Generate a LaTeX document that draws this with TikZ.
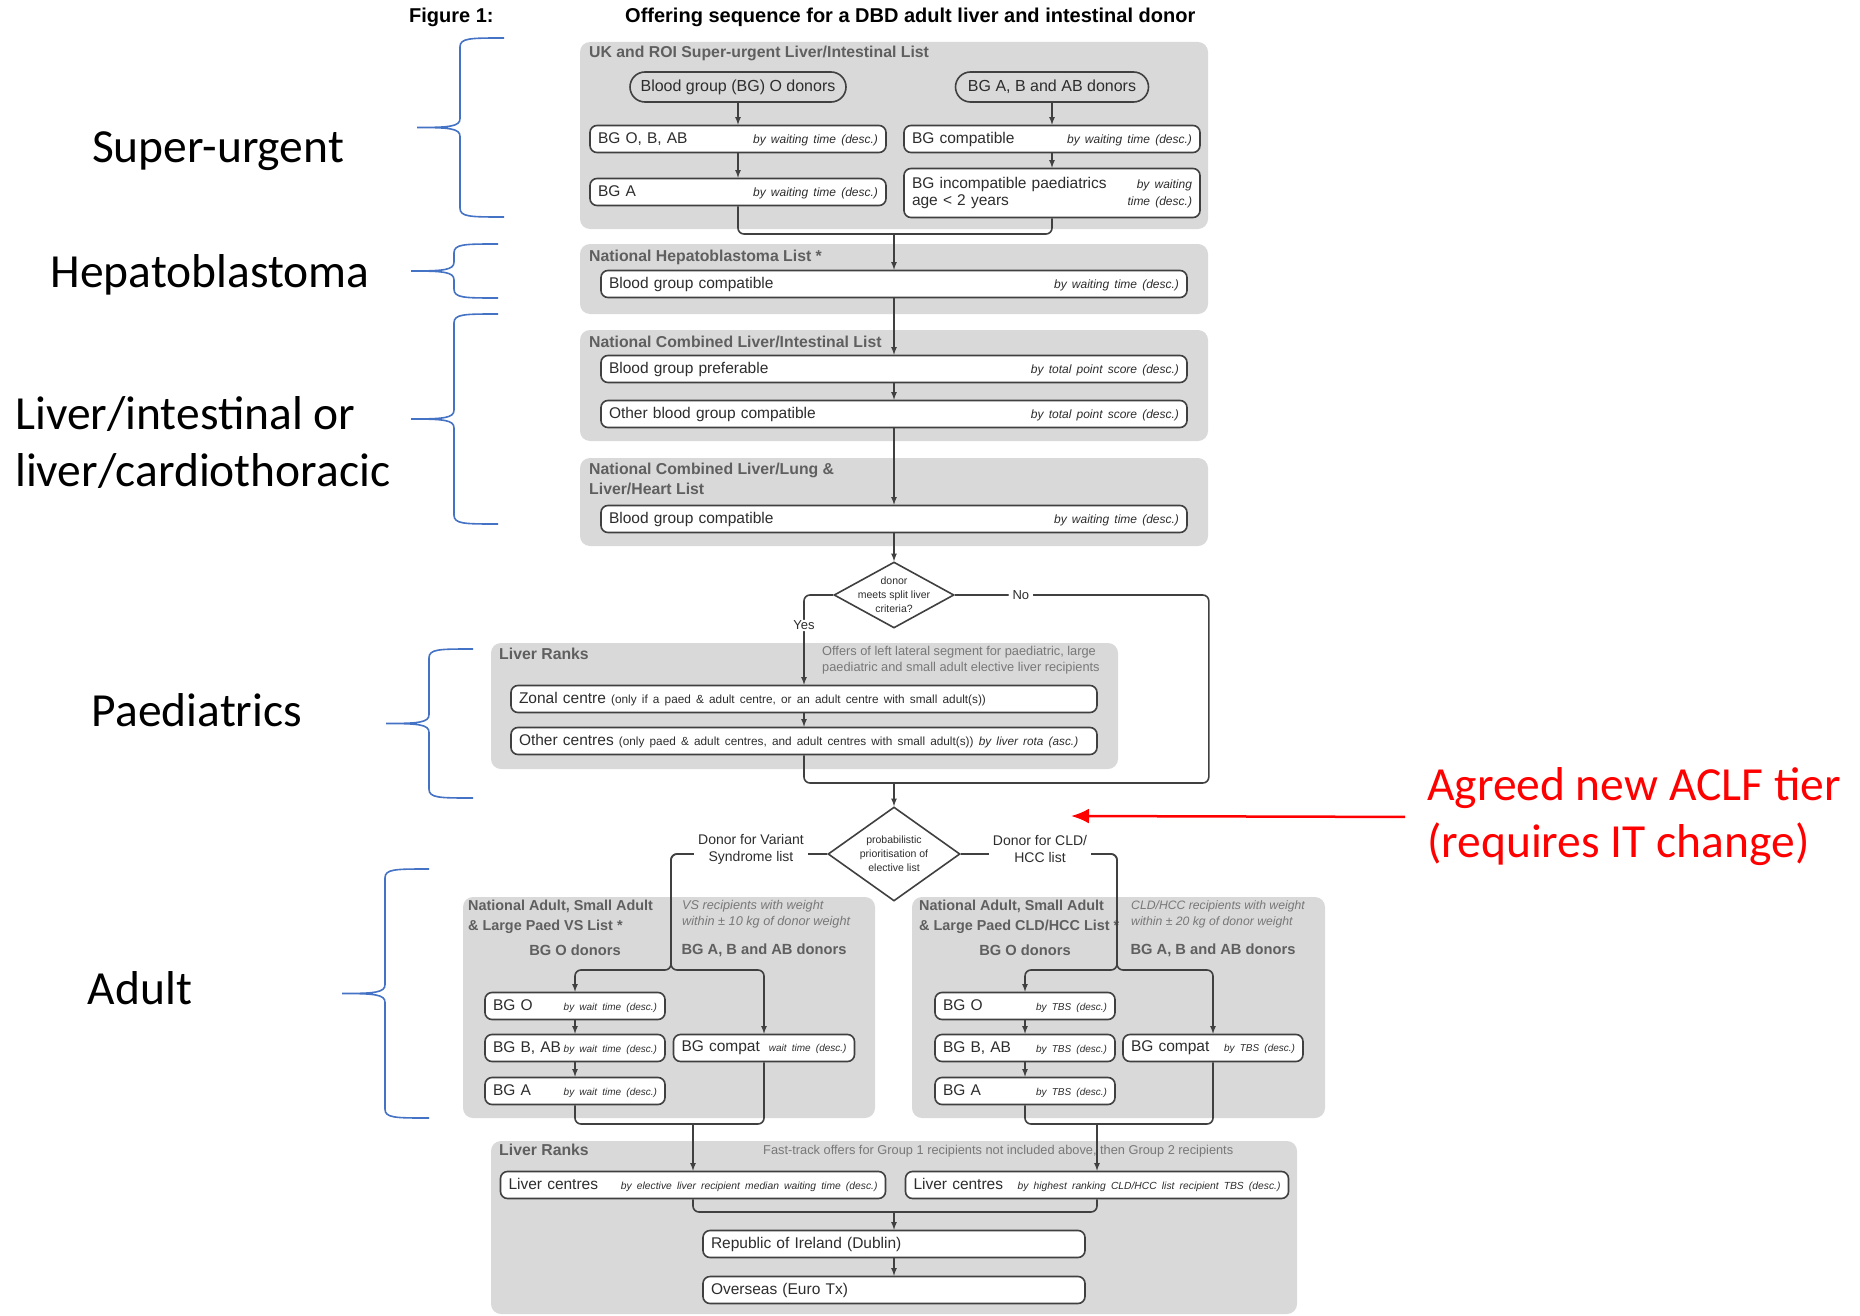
\documentclass[tikz,border=0pt]{standalone}
\usepackage{fontspec}
\setmainfont{Liberation Sans}
\newfontfamily\calibrilike{Carlito}
\usetikzlibrary{arrows, arrows.meta, shapes.geometric, positioning, calc}

\definecolor{panelgray}{RGB}{217,217,217}
\definecolor{linegray}{RGB}{64,64,64}
\definecolor{boxtext}{RGB}{45,45,45}
\definecolor{headgray}{RGB}{95,95,95}
\definecolor{notegray}{RGB}{120,120,120}
\definecolor{braceblue}{RGB}{68,114,196}

\newcommand{\byrank}[2][12]{\hfill{\fontsize{#1}{#1}\selectfont\itshape #2}}
\newcommand{\grpbrace}[3]{% arms at x=#1, from y=#2 down to y=#3
  \pgfmathsetmacro{\bmid}{(#2+#3)/2}
  \draw[bluebrace] (#1,#2) .. controls +(-34,0) and +(0,-9) .. (#1-44,#2+9)
    -- (#1-44,\bmid-9) .. controls +(0,8) and +(33,0) .. (#1-87,\bmid)
    .. controls +(33,0) and +(0,-8) .. (#1-44,\bmid+9)
    -- (#1-44,#3-9) .. controls +(0,9) and +(-34,0) .. (#1,#3);
}

\tikzset{
  panel/.style={fill=panelgray, rounded corners=10pt},
  lbox/.style={draw=linegray, line width=1.6pt, fill=white, rounded corners=7pt,
    minimum height=27pt, inner xsep=8pt, inner ysep=2pt, text width=#1,
    align=left, text=boxtext, font=\fontsize{15.5}{17}\selectfont},
  oval/.style={draw=linegray, line width=1.6pt, rounded corners=15pt,
    minimum height=30pt, text=boxtext, font=\fontsize{16}{18}\selectfont},
  decision/.style={diamond, draw=linegray, line width=1.6pt, fill=white, inner sep=0pt},
  dtext/.style={align=center, text=boxtext, font=\fontsize{10.5}{14}\selectfont},
  head/.style={anchor=north west, inner sep=0pt, align=left, text=headgray,
    font=\bfseries\fontsize{15.8}{20}\selectfont},
  note/.style={anchor=north west, inner sep=0pt, align=left, text=notegray,
    font=\fontsize{12.8}{16}\selectfont},
  grp/.style={inner sep=0pt, text=headgray, font=\bfseries\fontsize{14.7}{16}\selectfont},
  lbl/.style={fill=white, inner xsep=4pt, inner ysep=1pt, align=center, text=boxtext,
    font=\fontsize{14}{17}\selectfont},
  link/.style={draw=linegray, line width=1.6pt, rounded corners=6pt},
  ttl/.style={anchor=west, inner sep=0pt, font=\bfseries\fontsize{20}{22}\selectfont},
  biglbl/.style={inner sep=0pt, font=\calibrilike\fontsize{47.5}{57}\selectfont},
  bluebrace/.style={draw=braceblue, line width=1.6pt},
}

\begin{document}
\begin{tikzpicture}[x=1pt,y=-1pt,>=latex]
\useasboundingbox (0,0) rectangle (1860,1316);

% title
\node[ttl] (fig) at (409,17) {Figure 1:};
\node[ttl] (title) at (625,17) {Offering sequence for a DBD adult liver and intestinal donor};

% grey panels
\fill[panel] (580,42) rectangle (1208,229);
\fill[panel] (580,244) rectangle (1208,314);
\fill[panel] (580,330) rectangle (1208,441);
\fill[panel] (580,458) rectangle (1208,546);
\fill[panel] (491,643) rectangle (1118,769);
\fill[panel] (463,897) rectangle (875,1118);
\fill[panel] (912,897) rectangle (1325,1118);
\fill[panel] (491,1141) rectangle (1297,1314);

% panel headings and notes
\node[head] (su_head) at (589,46) {UK and ROI Super-urgent Liver/Intestinal List};
\node[head] (hb_head) at (589,250) {National Hepatoblastoma List *};
\node[head] (ci_head) at (589,336) {National Combined Liver/Intestinal List};
\node[head] (lh_head) at (589,463) {National Combined Liver/Lung \&\\Liver/Heart List};
\node[head] (pr_head) at (499,648) {Liver Ranks};
\node[note] (pr_note) at (822,646) {Offers of left lateral segment for paediatric, large\\paediatric and small adult elective liver recipients};
\node[head, font=\bfseries\fontsize{14.4}{20}\selectfont] (vs_head) at (468,900) {National Adult, Small Adult\\\& Large Paed VS List *};
\node[note, font=\itshape\fontsize{12.7}{16}\selectfont] (vs_note) at (682,900) {VS recipients with weight\\within ± 10 kg of donor weight};
\node[head, font=\bfseries\fontsize{14.4}{20}\selectfont] (cld_head) at (919,900) {National Adult, Small Adult\\\& Large Paed CLD/HCC List *};
\node[note, font=\itshape\fontsize{12.2}{16}\selectfont] (cld_note) at (1131,900) {CLD/HCC recipients with weight\\within ± 20 kg of donor weight};
\node[grp] (vs_go) at (575,950) {BG O donors};
\node[grp] (vs_gab) at (764,950) {BG A, B and AB donors};
\node[grp] (cld_go) at (1025,950) {BG O donors};
\node[grp] (cld_gab) at (1213,950) {BG A, B and AB donors};
\node[head] (lr_head) at (499,1144) {Liver Ranks};
\node[note] (lr_note) at (763,1145) {Fast-track offers for Group 1 recipients not included above, then Group 2 recipients};

% super-urgent
\node[oval, minimum width=216pt] (su_o) at (738,87) {Blood group (BG) O donors};
\node[oval, minimum width=193pt] (su_ab) at (1052,87) {BG A, B and AB donors};
\node[lbox=280pt] (su1) at (738,139) {BG O, B, AB\byrank{by waiting time (desc.)}};
\node[lbox=280pt] (su2) at (738,192) {BG A\byrank{by waiting time (desc.)}};
\node[lbox=280pt] (su3) at (1052,139) {BG compatible\byrank{by waiting time (desc.)}};
\node[lbox=280pt, minimum height=49pt] (su4) at (1052,193) {BG incompatible paediatrics\byrank{by waiting}\\age < 2 years\byrank{time (desc.)}};

% national lists
\node[lbox=570pt] (hb) at (894,284) {Blood group compatible\byrank{by waiting time (desc.)}};
\node[lbox=570pt] (ci1) at (894,369) {Blood group preferable\byrank{by total point score (desc.)}};
\node[lbox=570pt] (ci2) at (894,414) {Other blood group compatible\byrank{by total point score (desc.)}};
\node[lbox=570pt] (lh) at (894,519) {Blood group compatible\byrank{by waiting time (desc.)}};

% decisions
\node[decision, minimum width=120pt, minimum height=66pt,
  label={[dtext]center:{donor\\meets split liver\\criteria?}}] (split) at (894,595) {};
\node[decision, minimum width=132pt, minimum height=94pt,
  label={[dtext]center:{probabilistic\\prioritisation of\\elective list}}] (prob) at (894,854) {};

% paediatric liver ranks
\node[lbox=570pt] (zonal) at (804,699) {Zonal centre {\fontsize{11.8}{13}\selectfont (only if a paed \& adult centre, or an adult centre with small adult(s))}};
\node[lbox=570pt] (other) at (804,741) {Other centres {\fontsize{11.8}{13}\selectfont (only paed \& adult centres, and adult centres with small adult(s)) \itshape by liver rota (asc.)}};

% adult lists
\node[lbox=164pt] (vs_o) at (575,1006) {BG O\byrank[10]{by wait time (desc.)}};
\node[lbox=164pt] (vs_bab) at (575,1048) {BG B, AB\byrank[10]{by wait time (desc.)}};
\node[lbox=164pt] (vs_a) at (575,1091) {BG A\byrank[10]{by wait time (desc.)}};
\node[lbox=165pt] (vs_c) at (764,1048) {BG compat\byrank[10]{wait time (desc.)}};
\node[lbox=164pt] (cld_o) at (1025,1006) {BG O\byrank[10]{by TBS (desc.)}};
\node[lbox=164pt] (cld_bab) at (1025,1048) {BG B, AB\byrank[10]{by TBS (desc.)}};
\node[lbox=164pt] (cld_a) at (1025,1091) {BG A\byrank[10]{by TBS (desc.)}};
\node[lbox=164pt] (cld_c) at (1213,1048) {BG compat\byrank[10]{by TBS (desc.)}};

% adult liver ranks
\node[lbox=369pt] (lc_el) at (693,1185) {Liver centres\byrank[10.3]{by elective liver recipient median waiting time (desc.)}};
\node[lbox=367pt] (lc_cld) at (1097,1185) {Liver centres\byrank[10.3]{by highest ranking CLD/HCC list recipient TBS (desc.)}};
\node[lbox=366pt] (roi) at (894,1244) {Republic of Ireland (Dublin)};
\node[lbox=366pt] (euro) at (894,1290) {Overseas (Euro Tx)};

% connectors
\draw[link,->] (su_o) -- (su1);
\draw[link,->] (su1) -- (su2);
\draw[link,->] (su_ab) -- (su3);
\draw[link,->] (su3) -- (su4);
\coordinate (mrg_su) at (894,234);
\draw[link] (su2) |- (mrg_su);
\draw[link] (su4) |- (mrg_su);
\draw[link,->] (mrg_su) -- (hb);
\draw[link,->] (hb) -- (ci1);
\draw[link,->] (ci1) -- (ci2);
\draw[link,->] (ci2) -- (lh);
\draw[link,->] (lh) -- (split);

\coordinate (mrg_p) at (894,783);
\draw[link,->] (split.west) -| node[pos=0.67, lbl, font=\fontsize{13}{15}\selectfont]{Yes} (zonal);
\draw[link,->] (zonal) -- (other);
\draw[link] (split.east) -- node[pos=0.26, lbl, font=\fontsize{13}{15}\selectfont]{No} ++(254,0) |- (mrg_p);
\draw[link] (other) |- (mrg_p);
\draw[link,->] (mrg_p) -- (prob);

\coordinate (vs_fork) at (671,970);
\draw[link,->] (prob.west) -| (vs_fork) -| (vs_o);
\draw[link,->] (prob.west) -| (vs_fork) -| (vs_c);
\coordinate (cld_fork) at (1117,970);
\draw[link,->] (prob.east) -| (cld_fork) -| (cld_o);
\draw[link,->] (prob.east) -| (cld_fork) -| (cld_c);
\node[lbl] (vs_lbl) at (751,849) {Donor for Variant\\Syndrome list};
\node[lbl] (cld_lbl) at (1040,849) {Donor for CLD/\\HCC list};

\draw[link,->] (vs_o) -- (vs_bab);
\draw[link,->] (vs_bab) -- (vs_a);
\draw[link,->] (cld_o) -- (cld_bab);
\draw[link,->] (cld_bab) -- (cld_a);

\coordinate (mrg_vs) at (693,1124);
\draw[link] (vs_a) |- (mrg_vs);
\draw[link] (vs_c) |- (mrg_vs);
\draw[link,->] (mrg_vs) -- (lc_el);
\coordinate (mrg_cld) at (1097,1124);
\draw[link] (cld_a) |- (mrg_cld);
\draw[link] (cld_c) |- (mrg_cld);
\draw[link,->] (mrg_cld) -- (lc_cld);
\coordinate (mrg_lr) at (894,1212);
\draw[link] (lc_el) |- (mrg_lr);
\draw[link] (lc_cld) |- (mrg_lr);
\draw[link,->] (mrg_lr) -- (roi);
\draw[link,->] (roi) -- (euro);

% annotation
\node[biglbl, anchor=west, align=left, text=red] (aclf) at (1427,817) {Agreed new ACLF tier\\(requires IT change)};
\coordinate (aclf_tip) at (1071,816);
\draw[red, line width=2.5pt, -{Latex[length=18pt,width=15pt]}, shorten <=22pt] (aclf.west) -- (aclf_tip);

% braces on the left
\grpbrace{504}{38}{217}
\grpbrace{498}{244}{298}
\grpbrace{498}{314}{524}
\grpbrace{473}{649}{798}
\grpbrace{429}{869}{1118}
\node[biglbl] (lb_su) at (218,151) {Super-urgent};
\node[biglbl] (lb_hb) at (210,275) {Hepatoblastoma};
\node[biglbl, anchor=west, align=left] (lb_li) at (15,443) {Liver/intestinal or\\liver/cardiothoracic};
\node[biglbl] (lb_pd) at (197,710) {Paediatrics};
\node[biglbl] (lb_ad) at (140,988) {Adult};
\end{tikzpicture}
\end{document}
